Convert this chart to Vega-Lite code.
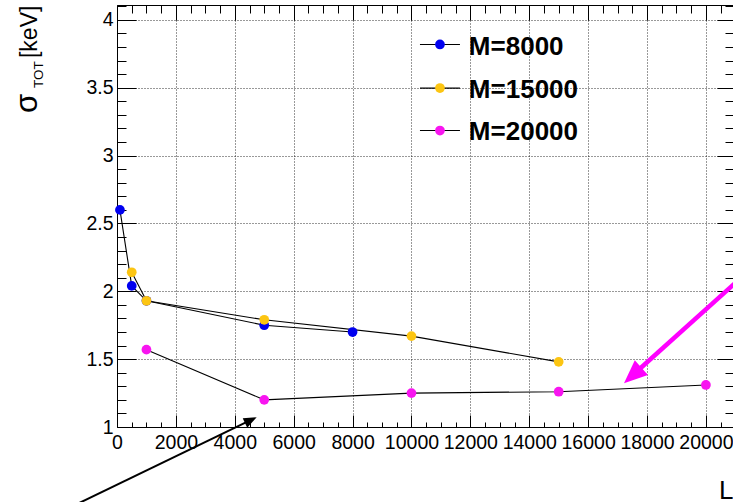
{
  "$schema": "https://vega.github.io/schema/vega-lite/v6.json",
  "width": 616,
  "height": 422,
  "autosize": {"type": "none"},
  "padding": {"left": 117, "top": 5, "right": 0, "bottom": 75},
  "background": "white",
  "config": {
    "view": {"stroke": null},
    "font": "Liberation Sans",
    "axis": {"domainColor": "black", "domainWidth": 1, "tickColor": "black", "tickWidth": 1, "labelColor": "black"}
  },
  "datasets": {
    "resolution": [
      {"series": "M=8000", "L": 100, "sigma": 2.6},
      {"series": "M=8000", "L": 500, "sigma": 2.04},
      {"series": "M=8000", "L": 1000, "sigma": 1.93},
      {"series": "M=8000", "L": 5000, "sigma": 1.75},
      {"series": "M=8000", "L": 8000, "sigma": 1.7},
      {"series": "M=15000", "L": 500, "sigma": 2.14},
      {"series": "M=15000", "L": 1000, "sigma": 1.93},
      {"series": "M=15000", "L": 5000, "sigma": 1.79},
      {"series": "M=15000", "L": 10000, "sigma": 1.67},
      {"series": "M=15000", "L": 15000, "sigma": 1.48},
      {"series": "M=20000", "L": 1000, "sigma": 1.57},
      {"series": "M=20000", "L": 5000, "sigma": 1.2},
      {"series": "M=20000", "L": 10000, "sigma": 1.25},
      {"series": "M=20000", "L": 15000, "sigma": 1.26},
      {"series": "M=20000", "L": 20000, "sigma": 1.31}
    ]
  },
  "resolve": {"axis": {"x": "independent", "y": "independent"}},
  "layer": [
    {
      "data": {"name": "resolution"},
      "mark": {"type": "line", "color": "black", "strokeWidth": 1.1},
      "encoding": {
        "x": {
          "field": "L", "type": "quantitative",
          "scale": {"domain": [0, 20920], "nice": false, "zero": false},
          "axis": {
            "orient": "bottom",
            "values": [0,500,1000,1500,2000,2500,3000,3500,4000,4500,5000,5500,6000,6500,7000,7500,8000,8500,9000,9500,10000,10500,11000,11500,12000,12500,13000,13500,14000,14500,15000,15500,16000,16500,17000,17500,18000,18500,19000,19500,20000,20500],
            "labelExpr": "datum.value % 2000 == 0 ? format(datum.value, 'd') : ''",
            "labelFont": "Liberation Sans", "labelFontSize": 19.5,
            "labelPadding": 18, "labelFlush": false, "labelOverlap": false,
            "tickSize": {"condition": {"test": "datum.value % 2000 == 0", "value": -12}, "value": -5},
            "grid": true, "gridColor": "black", "gridDash": [1, 2],
            "gridOpacity": {"condition": {"test": "datum.value % 2000 == 0", "value": 0.8}, "value": 0},
            "title": "L",
            "titleFont": "Liberation Sans", "titleFontSize": 26, "titleFontWeight": "normal", "titleColor": "black",
            "titleAnchor": "end", "titleAlign": "right", "titleBaseline": "alphabetic", "titleY": 71
          }
        },
        "y": {
          "field": "sigma", "type": "quantitative",
          "scale": {"domain": [1, 4.11], "nice": false, "zero": false},
          "axis": {
            "orient": "left",
            "values": [1,1.1,1.2,1.3,1.4,1.5,1.6,1.7,1.8,1.9,2,2.1,2.2,2.3,2.4,2.5,2.6,2.7,2.8,2.9,3,3.1,3.2,3.3,3.4,3.5,3.6,3.7,3.8,3.9,4,4.1],
            "labelExpr": "round(datum.value * 10) % 5 == 0 ? format(datum.value, '~g') : ''",
            "labelFont": "Liberation Sans", "labelFontSize": 19.5,
            "labelPadding": 23, "labelFlush": false, "labelOverlap": false,
            "tickSize": {"condition": {"test": "round(datum.value * 10) % 5 == 0", "value": -19}, "value": -9},
            "grid": true, "gridColor": "black", "gridDash": [1, 2],
            "gridOpacity": {"condition": {"test": "round(datum.value * 10) % 5 == 0", "value": 0.8}, "value": 0},
            "title": null
          }
        },
        "detail": {"field": "series"}
      }
    },
    {
      "data": {"name": "resolution"},
      "mark": {"type": "point", "shape": "circle", "filled": true, "opacity": 1, "size": 95},
      "encoding": {
        "x": {
          "field": "L", "type": "quantitative",
          "axis": {
            "orient": "top", "labels": false, "grid": false, "title": null,
            "values": [0,500,1000,1500,2000,2500,3000,3500,4000,4500,5000,5500,6000,6500,7000,7500,8000,8500,9000,9500,10000,10500,11000,11500,12000,12500,13000,13500,14000,14500,15000,15500,16000,16500,17000,17500,18000,18500,19000,19500,20000,20500],
            "tickSize": {"condition": {"test": "datum.value % 2000 == 0", "value": -15}, "value": -8}
          }
        },
        "y": {
          "field": "sigma", "type": "quantitative",
          "axis": {
            "orient": "right", "labels": false, "grid": false, "title": null,
            "values": [1,1.1,1.2,1.3,1.4,1.5,1.6,1.7,1.8,1.9,2,2.1,2.2,2.3,2.4,2.5,2.6,2.7,2.8,2.9,3,3.1,3.2,3.3,3.4,3.5,3.6,3.7,3.8,3.9,4,4.1],
            "tickSize": {"condition": {"test": "round(datum.value * 10) % 5 == 0", "value": -16}, "value": -8}
          }
        },
        "color": {
          "field": "series", "type": "nominal",
          "scale": {"domain": ["M=8000", "M=15000", "M=20000"], "range": ["#0000f0", "#fcc512", "#f815f0"]},
          "legend": null
        }
      }
    },
    {
      "data": {"values": [{}]},
      "encoding": {"y": {"datum": 3.819, "type": "quantitative", "axis": null}},
      "layer": [
        {"mark": {"type": "rule", "color": "black", "strokeWidth": 1.2},
         "encoding": {"x": {"datum": 10289, "type": "quantitative", "axis": null}, "x2": {"datum": 11647}}},
        {"mark": {"type": "point", "shape": "circle", "filled": true, "opacity": 1, "size": 95, "color": "#0000f0"},
         "encoding": {"x": {"datum": 10968, "type": "quantitative", "axis": null}}}
      ]
    },
    {
      "data": {"values": [{}]},
      "encoding": {"y": {"datum": 3.498, "type": "quantitative", "axis": null}},
      "layer": [
        {"mark": {"type": "rule", "color": "black", "strokeWidth": 1.2},
         "encoding": {"x": {"datum": 10289, "type": "quantitative", "axis": null}, "x2": {"datum": 11647}}},
        {"mark": {"type": "point", "shape": "circle", "filled": true, "opacity": 1, "size": 95, "color": "#fcc512"},
         "encoding": {"x": {"datum": 10968, "type": "quantitative", "axis": null}}}
      ]
    },
    {
      "data": {"values": [{}]},
      "encoding": {"y": {"datum": 3.185, "type": "quantitative", "axis": null}},
      "layer": [
        {"mark": {"type": "rule", "color": "black", "strokeWidth": 1.2},
         "encoding": {"x": {"datum": 10289, "type": "quantitative", "axis": null}, "x2": {"datum": 11647}}},
        {"mark": {"type": "point", "shape": "circle", "filled": true, "opacity": 1, "size": 95, "color": "#f815f0"},
         "encoding": {"x": {"datum": 10968, "type": "quantitative", "axis": null}}}
      ]
    },
    {
      "data": {"values": [{}]},
      "mark": {"type": "text", "text": "M=8000", "font": "Liberation Sans", "fontSize": 26, "fontWeight": "bold", "align": "left", "baseline": "alphabetic", "color": "black"},
      "encoding": {"x": {"datum": 11950, "type": "quantitative", "axis": null}, "y": {"datum": 3.742, "type": "quantitative", "axis": null}}
    },
    {
      "data": {"values": [{}]},
      "mark": {"type": "text", "text": "M=15000", "font": "Liberation Sans", "fontSize": 26, "fontWeight": "bold", "align": "left", "baseline": "alphabetic", "color": "black"},
      "encoding": {"x": {"datum": 11950, "type": "quantitative", "axis": null}, "y": {"datum": 3.428, "type": "quantitative", "axis": null}}
    },
    {
      "data": {"values": [{}]},
      "mark": {"type": "text", "text": "M=20000", "font": "Liberation Sans", "fontSize": 26, "fontWeight": "bold", "align": "left", "baseline": "alphabetic", "color": "black"},
      "encoding": {"x": {"datum": 11950, "type": "quantitative", "axis": null}, "y": {"datum": 3.115, "type": "quantitative", "axis": null}}
    },
    {
      "data": {"values": [{}]},
      "mark": {"type": "text", "text": "σ", "font": "Liberation Sans", "fontSize": 31, "angle": 270, "align": "left", "baseline": "alphabetic", "color": "black"},
      "encoding": {"x": {"datum": -2717, "type": "quantitative", "axis": null}, "y": {"datum": 3.314, "type": "quantitative", "axis": null}}
    },
    {
      "data": {"values": [{}]},
      "mark": {"type": "text", "text": "TOT", "font": "Liberation Sans", "fontSize": 13.5, "angle": 270, "align": "left", "baseline": "alphabetic", "color": "black"},
      "encoding": {"x": {"datum": -2513, "type": "quantitative", "axis": null}, "y": {"datum": 3.498, "type": "quantitative", "axis": null}}
    },
    {
      "data": {"values": [{}]},
      "mark": {"type": "text", "text": "[keV]", "font": "Liberation Sans", "fontSize": 23, "angle": 270, "align": "left", "baseline": "alphabetic", "color": "black"},
      "encoding": {"x": {"datum": -2717, "type": "quantitative", "axis": null}, "y": {"datum": 3.719, "type": "quantitative", "axis": null}}
    },
    {
      "data": {"values": [{}]},
      "mark": {"type": "rule", "color": "black", "strokeWidth": 2},
      "encoding": {
        "x": {"datum": -1426, "type": "quantitative", "axis": null}, "y": {"datum": 0.425, "type": "quantitative", "axis": null},
        "x2": {"datum": 4554}, "y2": {"datum": 1.052}
      }
    },
    {
      "data": {"values": [{}]},
      "mark": {"type": "point", "shape": "M0,0L-0.4,1L0.4,1Z", "filled": true, "opacity": 1, "size": 676, "angle": 64.2, "color": "black", "strokeWidth": 0},
      "encoding": {"x": {"datum": 4744, "type": "quantitative", "axis": null}, "y": {"datum": 1.0715, "type": "quantitative", "axis": null}}
    },
    {
      "data": {"values": [{}]},
      "mark": {"type": "rule", "color": "#ff00ff", "strokeWidth": 4.5},
      "encoding": {
        "x": {"datum": 21667, "type": "quantitative", "axis": null}, "y": {"datum": 2.192, "type": "quantitative", "axis": null},
        "x2": {"datum": 17520}, "y2": {"datum": 1.383}
      }
    },
    {
      "data": {"values": [{}]},
      "mark": {"type": "point", "shape": "M0,0L-0.42,1L0.42,1Z", "filled": true, "opacity": 1, "size": 2190, "angle": 228, "color": "#ff00ff", "strokeWidth": 0},
      "encoding": {"x": {"datum": 17218, "type": "quantitative", "axis": null}, "y": {"datum": 1.322, "type": "quantitative", "axis": null}}
    }
  ]
}
